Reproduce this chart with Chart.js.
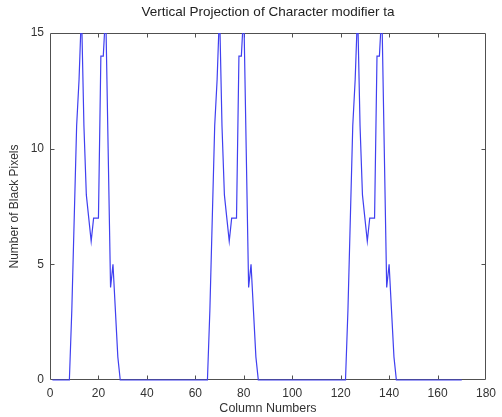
<!DOCTYPE html>
<html><head><meta charset="utf-8">
<script src="https://cdn.jsdelivr.net/npm/chart.js@4/dist/chart.umd.min.js"></script>
<style>html,body{margin:0;padding:0;background:#fff}</style>
</head><body>
<canvas id="c" width="502" height="417" style="display:block;width:502px;height:417px"></canvas>
<script>
const chartTitle = 'Vertical Projection of Character modifier ta';
const xAxisTitle = 'Column Numbers';
const yAxisTitle = 'Number of Black Pixels';
const xTickValues = [0, 20, 40, 60, 80, 100, 120, 140, 160, 180];
const yTickValues = [0, 5, 10, 15];
const firstColumn = 1;
// black pixel count for columns 1..170
const blackPixelCounts = [
  0, 0, 0, 0, 0, 0, 0, 0,
  3, 7, 11, 13, 16, 11, 8, 7, 6, 7, 7, 7, 14, 14, 16, 10, 4, 5, 3, 1, 0,
  0, 0, 0, 0, 0, 0, 0, 0, 0, 0, 0, 0, 0, 0, 0, 0, 0, 0,
  0, 0, 0, 0, 0, 0, 0, 0, 0, 0, 0, 0, 0, 0, 0, 0, 0, 0,
  3, 7, 11, 13, 16, 11, 8, 7, 6, 7, 7, 7, 14, 14, 16, 10, 4, 5, 3, 1, 0,
  0, 0, 0, 0, 0, 0, 0, 0, 0, 0, 0, 0, 0, 0, 0, 0, 0, 0,
  0, 0, 0, 0, 0, 0, 0, 0, 0, 0, 0, 0, 0, 0, 0, 0, 0, 0,
  3, 7, 11, 13, 16, 11, 8, 7, 6, 7, 7, 7, 14, 14, 16, 10, 4, 5, 3, 1, 0,
  0, 0, 0, 0, 0, 0, 0, 0, 0, 0, 0, 0, 0, 0, 0, 0, 0, 0, 0, 0, 0, 0, 0, 0, 0, 0, 0
];

const points = blackPixelCounts.map((v, i) => ({ x: firstColumn + i, y: v }));
const FONT = "'Liberation Sans', Arial, sans-serif";
const AXIS_COLOR = '#505050';

const boxPlugin = {
  id: 'matlabBox',
  beforeDatasetsDraw(chart) {
    const { ctx, chartArea: a, scales } = chart;
    const xs = scales.x, ys = scales.y;
    const L = Math.round(a.left) + 0.5, R = Math.round(a.right) - 0.5;
    const T = Math.round(a.top) + 0.5, B = Math.round(a.bottom) - 0.5;
    ctx.save();
    ctx.strokeStyle = AXIS_COLOR;
    ctx.lineWidth = 1;
    ctx.beginPath();
    ctx.rect(L, T, R - L, B - T);
    const tl = 4;
    xTickValues.forEach(v => {
      const p = Math.round(xs.getPixelForValue(v)) + 0.5;
      if (p <= L + 1 || p >= R - 1) return;
      ctx.moveTo(p, B); ctx.lineTo(p, B - tl);
      ctx.moveTo(p, T); ctx.lineTo(p, T + tl);
    });
    yTickValues.forEach(v => {
      const p = Math.round(ys.getPixelForValue(v)) + 0.5;
      if (p <= T + 1 || p >= B - 1) return;
      ctx.moveTo(L, p); ctx.lineTo(L + tl, p);
      ctx.moveTo(R, p); ctx.lineTo(R - tl, p);
    });
    ctx.stroke();
    ctx.restore();
  }
};

new Chart(document.getElementById('c'), {
  type: 'line',
  data: {
    datasets: [{
      data: points,
      borderColor: 'rgb(64,64,240)',
      borderWidth: 1.2,
      pointRadius: 0,
      tension: 0,
      fill: false,
      clip: { left: 1, right: 1, top: 0, bottom: 2 }
    }]
  },
  options: {
    responsive: false,
    animation: false,
    devicePixelRatio: 1,
    layout: { padding: { left: 0, right: 13, top: 0, bottom: 0 } },
    plugins: {
      legend: { display: false },
      tooltip: { enabled: false },
      title: {
        display: true,
        fullSize: false,
        text: chartTitle,
        color: '#222',
        font: { family: FONT, size: 13.5, weight: 'normal' },
        padding: { top: 3.9, bottom: 12.9 }
      }
    },
    scales: {
      x: {
        type: 'linear',
        min: 0, max: 180,
        afterBuildTicks(scale) { scale.ticks = xTickValues.map(v => ({ value: v })); },
        afterFit(scale) { scale.height = 37; },
        grid: { display: false, drawTicks: false },
        border: { display: false },
        ticks: { color: '#333', font: { family: FONT, size: 12 }, padding: 6, maxRotation: 0, autoSkip: false },
        title: {
          display: true, text: xAxisTitle, color: '#333',
          font: { family: FONT, size: 12.5 },
          padding: { top: 0, bottom: 0.5 }
        }
      },
      y: {
        type: 'linear',
        min: 0, max: 15,
        afterBuildTicks(scale) { scale.ticks = yTickValues.map(v => ({ value: v })); },
        afterFit(scale) { scale.width = 50; },
        grid: { display: false, drawTicks: false },
        border: { display: false },
        ticks: { color: '#333', font: { family: FONT, size: 12 }, padding: 6 },
        title: {
          display: true, text: yAxisTitle, color: '#333',
          font: { family: FONT, size: 12 },
          padding: { top: 7.8, bottom: 0 }
        }
      }
    }
  },
  plugins: [boxPlugin]
});
</script>
</body></html>
